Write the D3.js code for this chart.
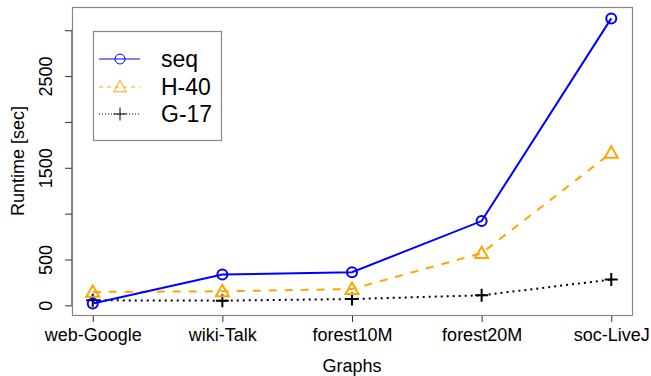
<!DOCTYPE html>
<html>
<head>
<meta charset="utf-8">
<script src="https://cdn.jsdelivr.net/npm/d3@7"></script>
<style>
  body { margin: 0; background: #fff; }
  text { font-family: "Liberation Sans", Arial, Helvetica, sans-serif; fill: #000; }
</style>
</head>
<body>
<svg id="chart" width="651" height="376"></svg>
<script>
// data
var graphs = ["web-Google", "wiki-Talk", "forest10M", "forest20M", "soc-LiveJ"];
var seq   = [19, 336, 361, 919, 3129];
var h40   = [146, 153, 178, 569, 1663];
var g17   = [55, 51, 69, 109, 281];
var yTicks = [0, 500, 1000, 1500, 2000, 2500, 3000];
var yLabels = [0, 500, 1500, 2500];

var svg = d3.select("#chart");

// plot region (R style, 4% padding on both axes)
var box = { left: 72, right: 632, top: 7, bottom: 315 };

var x = d3.scaleLinear()
  .domain([0.84, 5.16])
  .range([box.left, box.right]);

var allVals = seq.concat(h40, g17);
var yMin = d3.min(allVals), yMax = d3.max(allVals);
var pad = (yMax - yMin) * 0.04;
var y = d3.scaleLinear()
  .domain([yMin - pad, yMax + pad])
  .range([box.bottom, box.top]);

// x axis
var xAxis = d3.axisBottom(x)
  .tickValues([1, 2, 3, 4, 5])
  .tickSize(7)
  .tickPadding(6)
  .tickFormat(function(d){ return graphs[d - 1]; });

var gx = svg.append("g")
  .attr("transform", "translate(0," + box.bottom + ")")
  .call(xAxis);
gx.select(".domain").attr("d", "M" + x(1) + ",0.5H" + x(5)).attr("stroke", "#888");
gx.selectAll(".tick line").attr("stroke", "#333");
gx.selectAll(".tick text").attr("font-size", 18).style("font-family", null);

// y axis
var yAxis = d3.axisLeft(y)
  .tickValues(yTicks)
  .tickSize(7)
  .tickFormat(function(d){ return yLabels.indexOf(d) >= 0 ? d : ""; });

var gy = svg.append("g")
  .attr("transform", "translate(" + box.left + ",0)")
  .call(yAxis);
gy.select(".domain").attr("d", "M-0.5," + y(0) + "V" + y(3000)).attr("stroke", "#888");
gy.selectAll(".tick line").attr("stroke", "#333");
gy.selectAll(".tick text")
  .attr("font-size", 18)
  .style("font-family", null)
  .attr("x", null).attr("dy", null)
  .attr("text-anchor", "middle")
  .attr("transform", "translate(-20,0) rotate(-90)");

// plot box
svg.append("rect")
  .attr("x", box.left + 0.5).attr("y", box.top + 0.5)
  .attr("width", box.right - box.left).attr("height", box.bottom - box.top)
  .attr("fill", "none").attr("stroke", "#888").attr("stroke-width", 1.2);

// axis titles
svg.append("text")
  .attr("x", (box.left + box.right) / 2).attr("y", 372)
  .attr("text-anchor", "middle").attr("font-size", 18)
  .text("Graphs");
svg.append("text")
  .attr("transform", "translate(24," + ((box.top + box.bottom) / 2) + ") rotate(-90)")
  .attr("text-anchor", "middle").attr("font-size", 18)
  .text("Runtime [sec]");

var series = [
  { name: "seq",  values: seq, color: "#0000ff", dash: null,  legendDash: null,  shape: "circle" },
  { name: "H-40", values: h40, color: "#ffa500", dash: "8,8", legendDash: "4,4", shape: "triangle" },
  { name: "G-17", values: g17, color: "#000000", dash: "2,4", legendDash: "1,2", shape: "plus" }
];

function marker(g, shape, cx, cy, color, sw) {
  if (shape === "circle") {
    g.append("circle").attr("cx", cx).attr("cy", cy).attr("r", 5)
      .attr("fill", "none").attr("stroke", color).attr("stroke-width", sw);
  } else if (shape === "triangle") {
    var s = 6.5;
    g.append("path")
      .attr("d", "M" + cx + "," + (cy - s) + "L" + (cx + s) + "," + (cy + s * 0.75) + "L" + (cx - s) + "," + (cy + s * 0.75) + "Z")
      .attr("fill", "none").attr("stroke", color).attr("stroke-width", sw);
  } else {
    var p = 6.5;
    g.append("path")
      .attr("d", "M" + (cx - p) + "," + cy + "H" + (cx + p) + "M" + cx + "," + (cy - p) + "V" + (cy + p))
      .attr("fill", "none").attr("stroke", color).attr("stroke-width", sw);
  }
}

var line = d3.line()
  .x(function(d, i){ return x(i + 1); })
  .y(function(d){ return y(d); });

series.slice().reverse().forEach(function(s) {
  var g = svg.append("g");
  g.append("path")
    .datum(s.values)
    .attr("d", line)
    .attr("fill", "none")
    .attr("stroke", s.color)
    .attr("stroke-width", 2)
    .attr("stroke-dasharray", s.dash);
  s.values.forEach(function(v, i) {
    marker(g, s.shape, x(i + 1), y(v), s.color, 2);
  });
});

// legend
var lg = svg.append("g");
lg.append("rect")
  .attr("x", 93.5).attr("y", 31.5).attr("width", 128).attr("height", 109)
  .attr("fill", "#fff").attr("stroke", "#888").attr("stroke-width", 1.2);
var legendY = [59, 87, 114];
series.forEach(function(s, i) {
  var ly = legendY[i];
  lg.append("line")
    .attr("x1", 99).attr("x2", 140).attr("y1", ly).attr("y2", ly)
    .attr("stroke", s.color).attr("stroke-width", 1)
    .attr("stroke-dasharray", s.legendDash);
  marker(lg, s.shape, 120, ly, s.color, 1);
  lg.append("text")
    .attr("x", 161).attr("y", ly + 8)
    .attr("font-size", 23)
    .text(s.name);
});
</script>
</body>
</html>
